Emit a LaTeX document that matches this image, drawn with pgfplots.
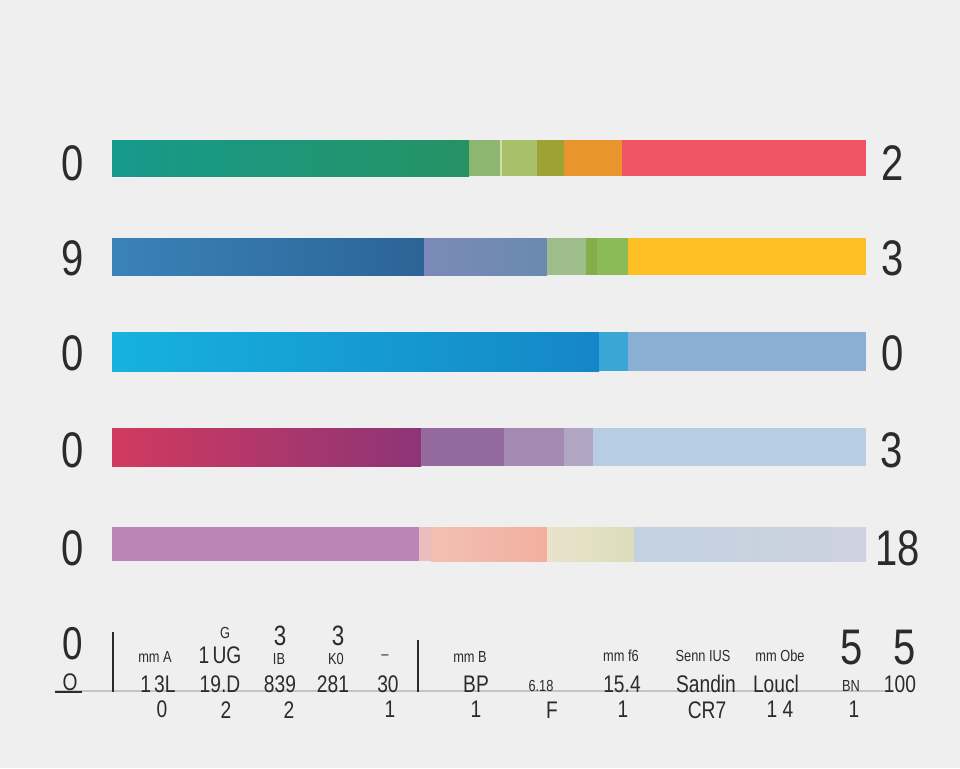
\documentclass[border=0pt]{standalone}
\usepackage{pgfplots}
\pgfplotsset{compat=1.18}
\usepackage{fontspec}
\setmainfont{Liberation Sans}
\definecolor{bg}{HTML}{EFEFEF}
\definecolor{ink}{HTML}{2B2B2B}
\definecolor{ruleg}{HTML}{C4C4C4}
% bar 1
\definecolor{a1}{HTML}{169A8C}\definecolor{a2}{HTML}{269264}
\definecolor{a3}{HTML}{8DB771}\definecolor{a4}{HTML}{D5DDB0}
\definecolor{a5}{HTML}{A8C06A}\definecolor{a6}{HTML}{9DA235}
\definecolor{a7}{HTML}{E8952E}\definecolor{a8}{HTML}{EF5565}
% bar 2
\definecolor{b1}{HTML}{3A82B8}\definecolor{b2}{HTML}{2C6496}
\definecolor{b3}{HTML}{7B8AB8}\definecolor{b4}{HTML}{6A8AAE}
\definecolor{b5}{HTML}{9DBE8A}\definecolor{b6}{HTML}{84AE47}
\definecolor{b7}{HTML}{8BBB56}\definecolor{b8}{HTML}{FDBF23}
% bar 3
\definecolor{c1}{HTML}{16B2DD}\definecolor{c2}{HTML}{1586C8}
\definecolor{c3}{HTML}{3AA6D6}\definecolor{c4}{HTML}{8AAFD3}
% bar 4
\definecolor{d1}{HTML}{D13A5F}\definecolor{d2}{HTML}{8D3477}
\definecolor{d3}{HTML}{946A9E}\definecolor{d4}{HTML}{A48AB3}
\definecolor{d5}{HTML}{B2A6C5}\definecolor{d6}{HTML}{B7CDE1}
% bar 5
\definecolor{e1}{HTML}{BA86B5}\definecolor{e2}{HTML}{ECBDC0}
\definecolor{e3}{HTML}{F2C0B2}\definecolor{e4}{HTML}{F2AF9F}
\definecolor{e5}{HTML}{E9E2CC}\definecolor{e6}{HTML}{DCDDBB}
\definecolor{e7}{HTML}{C3D2E0}\definecolor{e8}{HTML}{CDD2DF}
\newcommand\seg[5]{\addplot[fill=#5,draw=none] coordinates {(#1,#3)(#2,#3)(#2,#4)(#1,#4)} -- cycle;}
\newcommand\gseg[6]{\addplot[left color=#5,right color=#6,draw=none] coordinates {(#1,#3)(#2,#3)(#2,#4)(#1,#4)} -- cycle;}
\newcommand\bigt[1]{\fontsize{25}{25}\selectfont #1}
\newcommand\midt[1]{\fontsize{12}{12}\selectfont #1}
\newcommand\smlt[1]{\fontsize{8}{8}\selectfont #1}
\begin{document}
\begin{tikzpicture}
\begin{axis}[
    scale only axis,
    width=480pt, height=384pt,
    xmin=0, xmax=960, ymin=0, ymax=768,
    y dir=reverse,
    hide axis,
    clip=false,
    axis background/.style={fill=bg},
]
% bar 1
\gseg{112}{469}{140}{176}{a1}{a2}
\seg{469}{500}{140}{176}{a3}
\seg{500}{502}{140}{176}{a4}
\seg{502}{537}{140}{176}{a5}
\seg{537}{564}{140}{176}{a6}
\seg{564}{622}{140}{176}{a7}
\seg{622}{866}{140}{176}{a8}
% bar 2
\gseg{112}{424}{238}{275}{b1}{b2}
\gseg{424}{547}{238}{275}{b3}{b4}
\seg{547}{586}{238}{275}{b5}
\seg{586}{597}{238}{275}{b6}
\seg{597}{628}{238}{275}{b7}
\seg{628}{866}{238}{275}{b8}
% bar 3
\gseg{112}{599}{332}{371}{c1}{c2}
\seg{599}{628}{332}{371}{c3}
\seg{628}{866}{332}{371}{c4}
% bar 4
\gseg{112}{421}{428}{466}{d1}{d2}
\seg{421}{504}{428}{466}{d3}
\seg{504}{564}{428}{466}{d4}
\seg{564}{593}{428}{466}{d5}
\seg{593}{866}{428}{466}{d6}
% bar 5
\seg{112}{419}{527}{561}{e1}
\seg{419}{431}{527}{561}{e2}
\gseg{431}{547}{527}{561}{e3}{e4}
\gseg{547}{634}{527}{561}{e5}{e6}
\gseg{634}{866}{527}{561}{e7}{e8}
% bottom rules
\addplot[draw=ruleg, line width=0.8pt] coordinates {(55,691)(890,691)};
\addplot[draw=ink, line width=0.6pt] coordinates {(113,632)(113,692)};
\addplot[draw=ink, line width=0.6pt] coordinates {(418,640)(418,692)};
\addplot[draw=ink, line width=0.8pt] coordinates {(55,692)(82,692)};
% side labels
\begin{scope}[every node/.style={text=ink, xscale=0.8, inner sep=1pt}]
\node at (axis cs:73,163) {\bigt{0}};
\node at (axis cs:73,258) {\bigt{9}};
\node at (axis cs:73,353) {\bigt{0}};
\node at (axis cs:73,450) {\bigt{0}};
\node at (axis cs:73,548) {\bigt{0}};
\node at (axis cs:893,163) {\bigt{2}};
\node at (axis cs:893,258) {\bigt{3}};
\node at (axis cs:893,353) {\bigt{0}};
\node at (axis cs:892,450) {\bigt{3}};
\node at (axis cs:898,548) {\bigt{18}};
\node at (axis cs:73,644) {\fontsize{23}{23}\selectfont 0};
\node at (axis cs:70,682) {\midt{O}};
% bottom text
\node at (axis cs:155,657) {\smlt{mm A}};
\node at (axis cs:158,684) {\midt{1\,3L}};
\node at (axis cs:162,709) {\midt{0}};
\node at (axis cs:225,633) {\smlt{G}};
\node at (axis cs:220,655) {\midt{1\,UG}};
\node at (axis cs:220,684) {\midt{19.D}};
\node at (axis cs:226,710) {\midt{2}};
\node at (axis cs:280,636) {\fontsize{14}{14}\selectfont 3};
\node at (axis cs:279,659) {\smlt{IB}};
\node at (axis cs:280,684) {\midt{839}};
\node at (axis cs:289,710) {\midt{2}};
\node at (axis cs:338,636) {\fontsize{14}{14}\selectfont 3};
\node at (axis cs:336,659) {\smlt{K0}};
\node at (axis cs:333,684) {\midt{281}};
\node at (axis cs:385,657) {\smlt{--}};
\node at (axis cs:388,684) {\midt{30}};
\node at (axis cs:390,709) {\midt{1}};
\node at (axis cs:470,657) {\smlt{mm B}};
\node at (axis cs:476,684) {\midt{BP}};
\node at (axis cs:476,709) {\midt{1}};
\node at (axis cs:541,686) {\smlt{6.18}};
\node at (axis cs:552,710) {\midt{F}};
\node at (axis cs:621,656) {\smlt{mm f6}};
\node at (axis cs:622,684) {\midt{15.4}};
\node at (axis cs:623,709) {\midt{1}};
\node at (axis cs:703,656) {\smlt{Senn IUS}};
\node at (axis cs:706,684) {\midt{Sandin}};
\node at (axis cs:707,710) {\midt{CR7}};
\node at (axis cs:780,656) {\smlt{mm Obe}};
\node at (axis cs:776,684) {\midt{Loucl}};
\node at (axis cs:780,709) {\midt{1 4}};
\node at (axis cs:852,648) {\bigt{5}};
\node at (axis cs:851,686) {\smlt{BN}};
\node at (axis cs:854,709) {\midt{1}};
\node at (axis cs:905,648) {\bigt{5}};
\node at (axis cs:900,684) {\midt{100}};
\end{scope}
\end{axis}
\end{tikzpicture}
\end{document}
